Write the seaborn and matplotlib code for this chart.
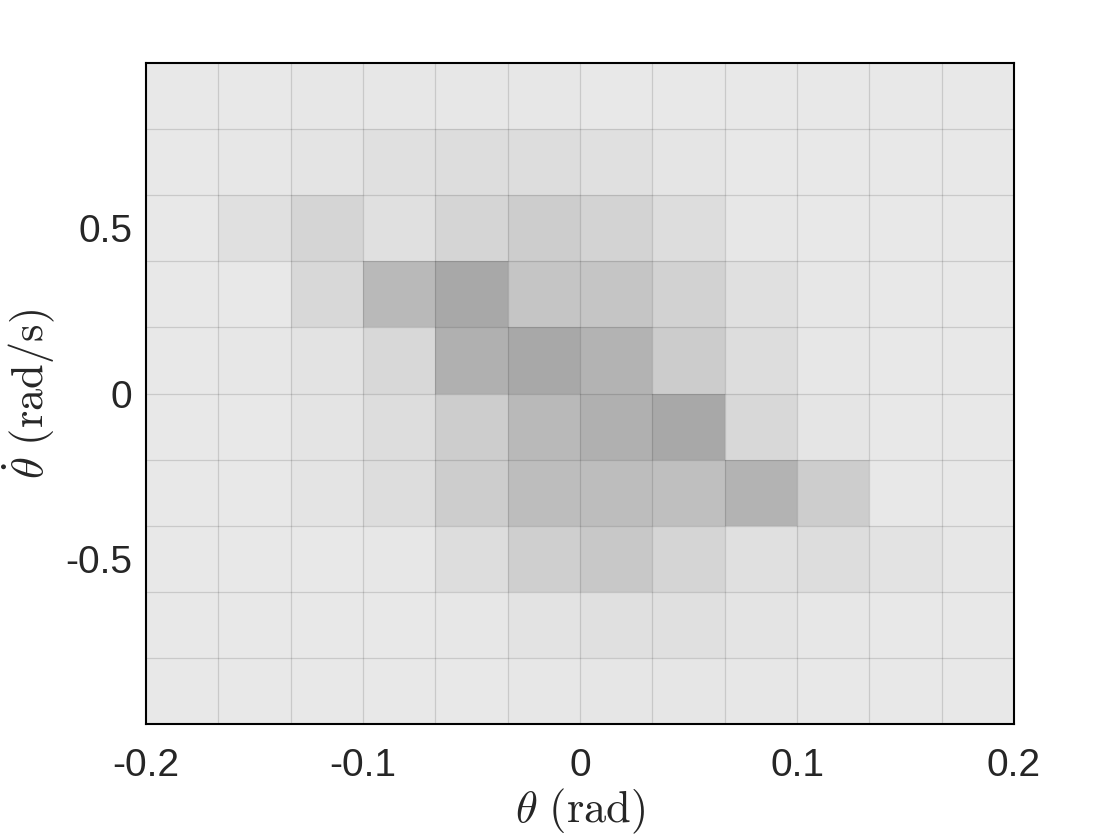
import numpy as np
import pandas as pd
import matplotlib
matplotlib.use("Agg")
import matplotlib.pyplot as plt
from matplotlib.colors import LinearSegmentedColormap
import seaborn as sns

# ── Data: visit counts per (theta, theta_dot) bin, rows top (1 rad/s) to bottom (-1 rad/s)
theta_edges = [-0.2, -0.1667, -0.1333, -0.1, -0.0667, -0.0333, 0.0,
               0.0333, 0.0667, 0.1, 0.1333, 0.1667, 0.2]
thetadot_edges = [1.0, 0.8, 0.6, 0.4, 0.2, 0.0, -0.2, -0.4, -0.6, -0.8, -1.0]

row_0 = [0, 0, 1, 1, 1, 1, 0, 0, 0, 0, 0, 0]
row_1 = [0, 1, 4, 8, 11, 11, 8, 3, 0, 0, 0, 0]
row_2 = [0, 8, 19, 8, 19, 27, 21, 11, 1, 0, 0, 0]
row_3 = [0, 0, 16, 47, 64, 35, 35, 22, 8, 1, 0, 0]
row_4 = [0, 1, 5, 16, 56, 64, 53, 28, 11, 1, 0, 0]
row_5 = [0, 0, 4, 11, 27, 47, 56, 64, 16, 3, 0, 0]
row_6 = [0, 0, 4, 11, 27, 43, 43, 41, 53, 27, 0, 0]
row_7 = [0, 0, 0, 1, 11, 25, 32, 19, 8, 11, 5, 1]
row_8 = [0, 0, 0, 0, 1, 5, 8, 8, 4, 1, 0, 0]
row_9 = [0, 0, 0, 0, 0, 1, 2, 2, 1, 0, 0, 0]

x_ticks = [-0.2, -0.1, 0, 0.1, 0.2]
x_ticklabels = ["-0.2", "-0.1", "0", "0.1", "0.2"]
y_ticks = [0.5, 0, -0.5]
y_ticklabels = ["0.5", "0", "-0.5"]

counts = np.array([row_0, row_1, row_2, row_3, row_4,
                   row_5, row_6, row_7, row_8, row_9])
df = pd.DataFrame(counts)

# ── Style ───────────────────────────────────────────────
sns.set_theme(style="white")
plt.rcParams.update({'font.family': ['Liberation Sans', 'DejaVu Sans'],
                     'mathtext.fontset': 'cm'})
gray_cmap = LinearSegmentedColormap.from_list("gray_density", ["#e8e8e8", "#a0a0a0"])

fig = plt.figure(figsize=(11.2, 8.4), dpi=100)
ax = fig.add_axes([0.1304, 0.138, 0.775, 0.787])

sns.heatmap(df, cmap=gray_cmap, vmin=0, vmax=72, cbar=False, ax=ax,
            xticklabels=False, yticklabels=False)

# map data coordinates onto heatmap cell indices
nx, ny = counts.shape[1], counts.shape[0]
x_lo, x_hi = theta_edges[0], theta_edges[-1]
y_hi, y_lo = thetadot_edges[0], thetadot_edges[-1]
ax.set_xticks([(v - x_lo) / (x_hi - x_lo) * nx for v in x_ticks])
ax.set_xticklabels(x_ticklabels, fontsize=28, rotation=0)
ax.set_yticks([(y_hi - v) / (y_hi - y_lo) * ny for v in y_ticks])
ax.set_yticklabels(y_ticklabels, fontsize=28, rotation=0)
ax.tick_params(length=0, colors='#262626')
ax.tick_params(axis='x', pad=17)
ax.tick_params(axis='y', pad=10)

# faint grid along bin edges
for i in range(1, nx):
    ax.axvline(i, color='black', alpha=0.13, linewidth=0.9)
for j in range(1, ny):
    ax.axhline(j, color='black', alpha=0.13, linewidth=0.9)

for sp in ax.spines.values():
    sp.set_visible(True)
    sp.set_color('black')
    sp.set_linewidth(1.5)

ax.set_xlabel(r"$\theta\ (\mathrm{rad})$", fontsize=32, labelpad=2)
ax.set_ylabel(r"$\dot{\theta}\ (\mathrm{rad/s})$", fontsize=32, labelpad=6)

plt.savefig("out.png", dpi=100, facecolor='white')
plt.close()
